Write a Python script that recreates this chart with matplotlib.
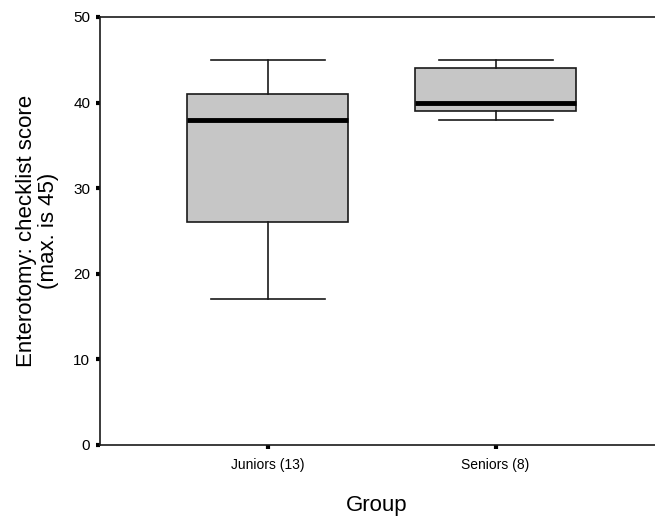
import matplotlib
matplotlib.use("Agg")
import matplotlib.pyplot as plt

plt.rcParams['font.family'] = ['Liberation Sans', 'DejaVu Sans']

# box plot summary
groups = ["Juniors (13)", "Seniors (8)"]
low_whisker = [17, 38]
q1 = [26, 39]
median = [38, 40]
q3 = [41, 44]
high_whisker = [45, 45]

stats = []
for i in range(len(groups)):
    stats.append(dict(label=groups[i], whislo=low_whisker[i], q1=q1[i],
                      med=median[i], q3=q3[i], whishi=high_whisker[i], fliers=[]))

fig = plt.figure(figsize=(6.55, 5.23), dpi=100)
ax = fig.add_axes([100/655, 78/523, 1 - 100/655, 428/523])

ax.bxp(stats, positions=[1, 2], widths=0.706, capwidths=0.5,
       patch_artist=True, showfliers=False,
       boxprops=dict(facecolor="#c6c6c6", edgecolor="#1a1a1a", linewidth=1.2),
       medianprops=dict(color="black", linewidth=3.5),
       whiskerprops=dict(color="#1a1a1a", linewidth=1.2),
       capprops=dict(color="#1a1a1a", linewidth=1.2))

ax.set_xlim(0.263, 2.70)
ax.set_ylim(0, 50)
ax.set_yticks([0, 10, 20, 30, 40, 50])
ax.spines['right'].set_visible(False)
for s in ['left', 'bottom', 'top']:
    ax.spines[s].set_linewidth(1.2)
    ax.spines[s].set_color("#1a1a1a")
ax.tick_params(axis='y', direction='out', length=3, width=3, labelsize=11, pad=4)
ax.tick_params(axis='x', direction='out', length=3, width=3, labelsize=10, pad=6)

ax.set_ylabel("Enterotomy: checklist score\n(max. is 45)", fontsize=16, labelpad=10,
              linespacing=1.1)
fig.text(377/655, 1 - 505/523, "Group", fontsize=16, ha='center', va='center')

fig.savefig("out.png", dpi=100)
